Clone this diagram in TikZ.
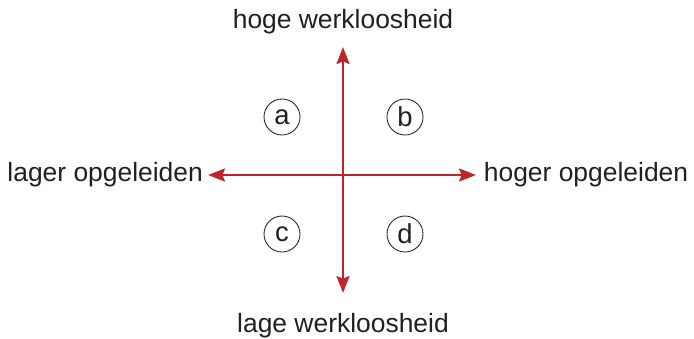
\documentclass[tikz,border=0pt]{standalone}
\usepackage{fontspec}
\setmainfont{Liberation Sans}
\usetikzlibrary{arrows.meta}
\usetikzlibrary{positioning}
\definecolor{mrood}{RGB}{190, 38, 44}
\definecolor{mtekst}{RGB}{35, 31, 32}
\tikzset{pijl/.style = {draw = mrood, line width = 2.1pt,
                        {Stealth[length = 0.42cm, width = 0.32cm, inset = 0.06cm]}-{Stealth[length = 0.42cm, width = 0.32cm, inset = 0.06cm]}}}
\tikzset{label/.style = {text = mtekst, font = \fontsize{18.8}{22}\selectfont, inner sep = 2pt}}
\tikzset{kwadrant/.style = {draw = mtekst, circle, line width = 0.6pt, minimum size = 0.9cm, inner sep = 0,
                            text = mtekst, font = \fontsize{19.5}{22}\selectfont}}

\begin{document}
\begin{tikzpicture}
           \useasboundingbox (0, 0) rectangle (17.35, 8.45);

           \coordinate (boven) at (8.575, 7.275);
           \coordinate (onder) at (8.575, 1.125);
           \coordinate (links) at (5.2, 4.075);
           \coordinate (rechts) at (11.9, 4.075);

           \draw [pijl] (onder) -- (boven);
           \draw [pijl] (links) -- (rechts);

           \node [label] (hoog) at (8.575, 7.9) {hoge werkloosheid};
           \node [label] (laag) at (8.575, 0.32) {lage werkloosheid};
           \node [label, left = 0.05 of links] (lager) {lager opgeleiden};
           \node [label, right = 0.12 of rechts] (hoger) {hoger opgeleiden};

           \node [kwadrant] (a) at (7.05, 5.525) {a};
           \node [kwadrant] (b) at (10.125, 5.525) {b};
           \node [kwadrant] (c) at (7.05, 2.6) {c};
           \node [kwadrant] (d) at (10.125, 2.6) {d};
\end{tikzpicture}
\end{document}
